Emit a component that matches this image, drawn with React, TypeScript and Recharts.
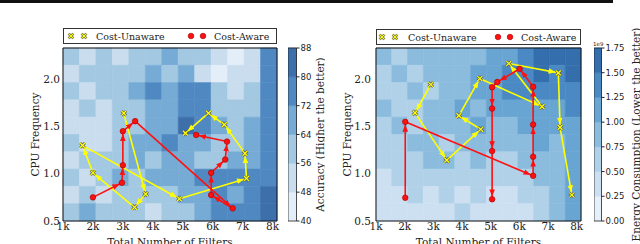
import React from 'react';
import { LineChart, Line, XAxis, YAxis, ReferenceArea, ComposedChart } from 'recharts';

const filterTicks = [1, 2, 3, 4, 5, 6, 7, 8];
const freqTicks = [0.5, 1.0, 1.5, 2.0];

// grid the contour backgrounds are sampled on (filters in k, CPU frequency)
const gridFilters = [1.0, 1.55, 2.1, 2.65, 3.2, 3.75, 4.3, 4.85, 5.4, 5.95, 6.5, 7.05, 7.6, 8.15];
const gridFreqs = [2.33, 2.147, 1.964, 1.781, 1.598, 1.415, 1.232, 1.049, 0.866, 0.683, 0.5];

// accuracy (%), rows from top (high freq) to bottom
const accuracyGrid = [
  [60, 52, 60, 52, 60, 60, 68, 60, 60, 52, 44, 52, 76],
  [52, 60, 60, 60, 60, 68, 60, 68, 52, 44, 52, 52, 76],
  [60, 52, 60, 60, 68, 76, 68, 76, 76, 60, 52, 60, 76],
  [52, 60, 52, 60, 60, 68, 68, 76, 76, 60, 60, 60, 76],
  [52, 52, 52, 60, 60, 68, 68, 84, 76, 68, 60, 68, 76],
  [60, 52, 52, 60, 68, 68, 76, 68, 68, 60, 60, 68, 76],
  [52, 60, 60, 60, 68, 60, 68, 68, 60, 60, 68, 68, 76],
  [60, 52, 60, 68, 60, 68, 68, 68, 76, 76, 76, 76, 76],
  [52, 60, 52, 60, 60, 60, 60, 68, 68, 76, 68, 76, 84],
  [60, 68, 60, 60, 60, 52, 60, 60, 68, 76, 76, 76, 84],
];

// energy (1e9), rows from top to bottom
const energyGrid = [
  [0.9, 0.6, 0.9, 0.9, 0.9, 0.9, 0.9, 1.1, 1.1, 1.4, 1.6, 1.6, 1.6],
  [0.6, 0.9, 0.6, 0.9, 0.9, 0.9, 1.1, 1.1, 1.4, 1.4, 1.6, 1.4, 1.6],
  [0.6, 0.6, 0.9, 0.6, 0.9, 0.9, 1.1, 1.1, 1.4, 1.4, 1.4, 1.4, 1.4],
  [0.9, 0.6, 0.6, 0.9, 0.9, 1.1, 0.9, 1.1, 1.1, 1.1, 1.1, 1.1, 1.4],
  [0.6, 0.9, 0.6, 0.9, 0.9, 0.9, 1.1, 0.9, 0.9, 1.1, 1.1, 1.1, 1.1],
  [0.6, 0.6, 0.9, 0.9, 0.6, 0.9, 0.9, 0.9, 0.9, 0.9, 1.1, 0.9, 1.1],
  [0.6, 0.6, 0.6, 0.9, 0.9, 0.6, 0.9, 0.6, 0.6, 0.9, 0.9, 0.9, 1.1],
  [0.4, 0.6, 0.6, 0.6, 0.6, 0.6, 0.6, 0.6, 0.6, 0.6, 0.9, 0.9, 1.1],
  [0.4, 0.4, 0.6, 0.4, 0.6, 0.4, 0.6, 0.4, 0.4, 0.6, 0.6, 0.9, 1.1],
  [0.4, 0.4, 0.4, 0.4, 0.4, 0.6, 0.4, 0.4, 0.4, 0.4, 0.6, 0.9, 1.1],
];

const accuracyLevels = [40, 48, 56, 64, 72, 80, 88];
const accuracyColors = ['#e3eef8', '#c9ddef', '#a3c8e2', '#75abd4', '#5089c2', '#3d6fab'];
const energyLevels = [0, 0.25, 0.5, 0.75, 1.0, 1.25, 1.5, 1.75];
const energyColors = ['#e6f0f9', '#cde0f1', '#b0d1e8', '#8cbcdd', '#69a5d2', '#4a89c3', '#346ead'];

// search paths: accuracy panel
const accUnawareK = [3.03, 3.76, 3.39, 2.0, 1.65, 4.89, 7.13, 7.08, 6.39, 5.86, 5.09];
const accUnawareF = [1.64, 0.785, 0.645, 1.01, 1.3, 0.735, 0.95, 1.215, 1.52, 1.64, 1.43];
const accAwareK = [2.0, 2.97, 3.0, 3.0, 3.41, 6.67, 5.95, 5.95, 6.42, 6.48, 5.45];
const accAwareF = [0.75, 0.905, 1.09, 1.45, 1.556, 0.634, 0.775, 1.01, 1.15, 1.34, 1.41];

// search paths: energy panel
const enUnawareK = [2.91, 2.36, 3.47, 4.65, 3.89, 4.62, 6.79, 5.63, 7.36, 7.42, 7.83];
const enUnawareF = [1.944, 1.644, 1.144, 1.47, 1.615, 2.007, 1.71, 2.166, 2.067, 1.49, 0.775];
const enAwareK = [2.02, 2.02, 6.48, 6.48, 6.48, 6.48, 6.01, 5.23, 5.05, 5.05, 5.05, 5.05];
const enAwareF = [0.746, 1.549, 0.978, 1.18, 1.52, 1.92, 2.11, 1.97, 1.915, 1.69, 1.24, 0.73];

const YELLOW = '#ffff00';
const RED = '#ff1010';
const SERIF = 'DejaVu Serif';

const toPts = (ks: number[], fs: number[]) => ks.map((k, i) => ({ x: k, y: fs[i] }));
const segments = (pts: { x: number; y: number }[]) => pts.slice(1).map((p, i) => [pts[i], p]);

const bandColor = (v: number, levels: number[], colors: string[]) => {
  let i = 0;
  while (i < colors.length - 1 && v >= levels[i + 1]) i++;
  return colors[i];
};

const crossDot = (p: any) => {
  const { cx, cy, index } = p;
  if (cx == null || cy == null) return <g key={index} />;
  const s = 2.4;
  const d = `M${cx - s},${cy - s}L${cx + s},${cy + s}M${cx + s},${cy - s}L${cx - s},${cy + s}`;
  return (
    <g key={index}>
      <path d={d} stroke="#555" strokeWidth={2.6} />
      <path d={d} stroke={YELLOW} strokeWidth={1.3} />
    </g>
  );
};

const roundDot = (p: any) => {
  const { cx, cy, index } = p;
  if (cx == null || cy == null) return <g key={index} />;
  return <circle key={index} cx={cx} cy={cy} r={2.8} fill={RED} stroke="#a00000" strokeWidth={0.6} />;
};

const tickStyle = { fontFamily: SERIF, fontSize: 10.5, fill: '#222' };

function Panel({ id, left, width, plotLeft, plotRight, labelOffset, tickGap, grid, levels, colors, unaware, aware }: any) {
  const cells: any[] = [];
  grid.forEach((row: number[], r: number) =>
    row.forEach((v, c) => {
      const col = bandColor(v, levels, colors);
      cells.push(
        <ReferenceArea
          key={`c${r}-${c}`}
          x1={gridFilters[c]}
          x2={gridFilters[c + 1]}
          y1={gridFreqs[r + 1]}
          y2={gridFreqs[r]}
          fill={col}
          fillOpacity={1}
          stroke={col}
          strokeWidth={0.6}
        />
      );
    })
  );
  const uPts = toPts(unaware[0], unaware[1]);
  const aPts = toPts(aware[0], aware[1]);
  return (
    <div style={{ position: 'absolute', left, top: 0 }}>
      <LineChart width={width} height={250} margin={{ top: 48, right: width - plotRight, left: plotLeft - 30, bottom: 5 }}>
        <defs>
          <marker id={`${id}-ay`} viewBox="0 0 10 10" refX="14" refY="5" markerWidth="7" markerHeight="7" markerUnits="userSpaceOnUse" orient="auto">
            <path d="M0,1 L10,5 L0,9 z" fill={YELLOW} />
          </marker>
          <marker id={`${id}-ar`} viewBox="0 0 10 10" refX="14" refY="5" markerWidth="7" markerHeight="7" markerUnits="userSpaceOnUse" orient="auto">
            <path d="M0,1 L10,5 L0,9 z" fill={RED} />
          </marker>
        </defs>
        <XAxis
          type="number"
          dataKey="x"
          domain={[1, 8.15]}
          ticks={filterTicks}
          tickFormatter={(v) => `${v}k`}
          tickLine={false}
          tickSize={0}
          tickMargin={2}
          axisLine={false}
          height={24}
          tick={tickStyle}
          allowDataOverflow
          label={{ value: 'Total Number of Filters', position: 'insideBottom', offset: 0, dy: 1, style: { ...tickStyle, textAnchor: 'middle' } }}
        />
        <YAxis
          type="number"
          dataKey="y"
          domain={[0.5, 2.33]}
          ticks={freqTicks}
          tickFormatter={(v) => v.toFixed(1)}
          tickLine={false}
          tickSize={0}
          tickMargin={tickGap}
          axisLine={false}
          width={30}
          tick={tickStyle}
          allowDataOverflow
          label={{ value: 'CPU Frequency', angle: -90, position: 'insideLeft', offset: labelOffset, style: { ...tickStyle, textAnchor: 'middle' } }}
        />
        {cells}
        {segments(uPts).map((s, i) => (
          <Line key={`u${i}`} data={s} dataKey="y" stroke={YELLOW} strokeWidth={1.6} dot={false} isAnimationActive={false} markerEnd={`url(#${id}-ay)`} />
        ))}
        <Line data={uPts} dataKey="y" stroke="none" dot={crossDot} isAnimationActive={false} />
        {segments(aPts).map((s, i) => (
          <Line key={`a${i}`} data={s} dataKey="y" stroke={RED} strokeWidth={1.6} dot={false} isAnimationActive={false} markerEnd={`url(#${id}-ar)`} />
        ))}
        <Line data={aPts} dataKey="y" stroke="none" dot={roundDot} isAnimationActive={false} />
        <ReferenceArea x1={1} x2={8.15} y1={0.5} y2={2.33} fill="none" stroke="#111" strokeWidth={1} />
      </LineChart>
    </div>
  );
}

function ColorBar({ left, barWidth, axisWidth, levels, colors, fmt, title, titleOffset }: any) {
  const lo = levels[0];
  const hi = levels[levels.length - 1];
  return (
    <div style={{ position: 'absolute', left, top: 0 }}>
      <ComposedChart width={barWidth + axisWidth} height={250} margin={{ top: 48, right: 0, left: 0, bottom: 29 }} data={[{ x: 0, y: lo }, { x: 1, y: hi }]}>
        <XAxis type="number" dataKey="x" domain={[0, 1]} hide />
        <YAxis
          orientation="right"
          type="number"
          dataKey="y"
          domain={[lo, hi]}
          ticks={levels}
          tickFormatter={fmt}
          width={axisWidth}
          tickSize={3}
          tickMargin={1}
          tickLine={{ stroke: '#222' }}
          axisLine={false}
          interval={0}
          tick={{ fontFamily: 'DejaVu Sans', fontSize: 8.5, fill: '#222' }}
          label={{ value: title, angle: -90, position: 'insideRight', offset: titleOffset, style: { fontFamily: SERIF, fontSize: 10.5, fill: '#222', textAnchor: 'middle' } }}
        />
        {colors.map((c: string, i: number) => (
          <ReferenceArea key={i} x1={0} x2={1} y1={levels[i]} y2={levels[i + 1]} fill={c} fillOpacity={1} stroke={c} strokeWidth={0.5} />
        ))}
        <ReferenceArea x1={0} x2={1} y1={lo} y2={hi} fill="none" stroke="#222" strokeWidth={0.8} />
        <Line dataKey="y" stroke="none" dot={false} isAnimationActive={false} />
      </ComposedChart>
    </div>
  );
}

function LegendBox({ left, top, width, marks }: any) {
  return (
    <div style={{ position: 'absolute', left, top, width, height: 16, boxSizing: 'border-box', border: '1px solid #333', background: '#fff' }}>
      <svg width={width - 2} height={14} style={{ display: 'block' }}>
        {[marks[0], marks[0] + 13].map((x: number, i: number) => crossDot({ cx: x, cy: 7, index: `y${i}` }))}
        <text x={marks[1]} y={10.5} fontFamily={SERIF} fontSize={9.5} fill="#222">Cost-Unaware</text>
        {[marks[2], marks[2] + 12].map((x: number, i: number) => roundDot({ cx: x, cy: 7, index: `r${i}` }))}
        <text x={marks[3]} y={10.5} fontFamily={SERIF} fontSize={9.5} fill="#222">Cost-Aware</text>
      </svg>
    </div>
  );
}

export default function App() {
  return (
    <div style={{ position: 'absolute', left: 0, top: 0, width: 640, height: 244, overflow: 'hidden', background: '#fff' }}>
      <div style={{ position: 'absolute', left: 0, top: 0, width: 613, height: 3, background: '#111' }} />
      <Panel
        id="acc"
        left={0}
        width={300}
        plotLeft={63}
        plotRight={277}
        labelOffset={2}
        tickGap={3}
        grid={accuracyGrid}
        levels={accuracyLevels}
        colors={accuracyColors}
        unaware={[accUnawareK, accUnawareF]}
        aware={[accAwareK, accAwareF]}
      />
      <ColorBar left={288} barWidth={8.5} axisWidth={28} levels={accuracyLevels} colors={accuracyColors} fmt={(v: number) => `${v}`} title="Accuracy (Higher the better)" titleOffset={4.5} />
      <Panel
        id="en"
        left={320}
        width={290}
        plotLeft={56}
        plotRight={261}
        labelOffset={1}
        tickGap={5}
        grid={energyGrid}
        levels={energyLevels}
        colors={energyColors}
        unaware={[enUnawareK, enUnawareF]}
        aware={[enAwareK, enAwareF]}
      />
      <ColorBar left={594} barWidth={7.5} axisWidth={38} levels={energyLevels} colors={energyColors} fmt={(v: number) => v.toFixed(2)} title="Energy Consumption (Lower the better)" titleOffset={3.5} />
      <div style={{ position: 'absolute', left: 593, top: 42, fontFamily: 'DejaVu Sans', fontSize: 5.5, color: '#222', lineHeight: 1 }}>1e9</div>
      <LegendBox left={63} top={28} width={214} marks={[7, 32, 127, 150]} />
      <LegendBox left={376} top={29} width={205} marks={[5, 31, 121, 144]} />
    </div>
  );
}
